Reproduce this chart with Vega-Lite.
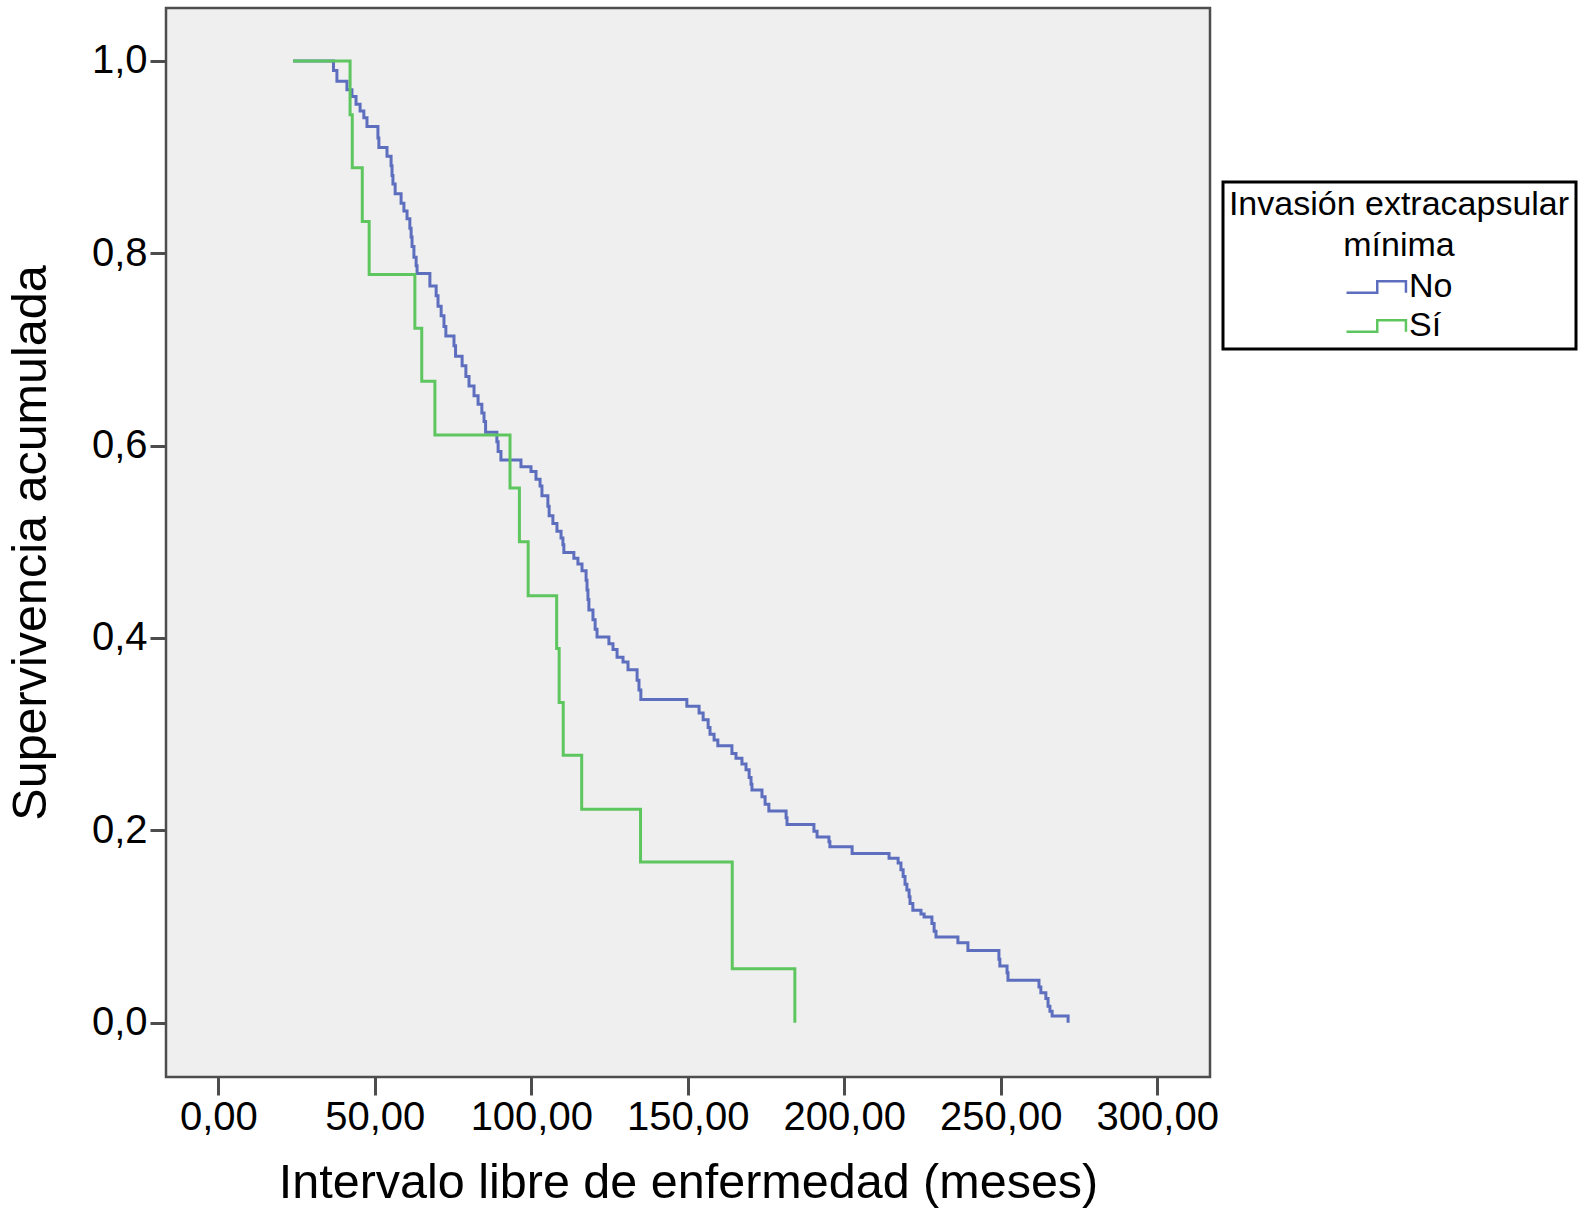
{
  "$schema": "https://vega.github.io/schema/vega-lite/v6.json",
  "autosize": {"type": "none"},
  "padding": {"left": 166, "top": 8, "right": 368, "bottom": 131},
  "width": 1044,
  "height": 1069,
  "background": "white",
  "config": {
    "font": "Liberation Sans",
    "locale": {"number": {"decimal": ",", "thousands": ".", "grouping": [3], "currency": ["", " €"]}},
    "view": {"fill": "#efefef", "stroke": "#4d4d4d", "strokeWidth": 2.5},
    "axis": {"grid": false, "domain": false, "tickColor": "#4d4d4d", "tickWidth": 3, "labelColor": "black", "titleColor": "black", "titleFontWeight": "normal", "labelFont": "Liberation Sans", "titleFont": "Liberation Sans"},
    "legend": {"strokeWidth": 3}
  },
  "data": {
    "values": [
      {"t": 23.9, "s": 1.0, "g": "No"},
      {"t": 36.8, "s": 0.990, "g": "No"},
      {"t": 37.9, "s": 0.979, "g": "No"},
      {"t": 41.1, "s": 0.970, "g": "No"},
      {"t": 42.7, "s": 0.963, "g": "No"},
      {"t": 44.0, "s": 0.955, "g": "No"},
      {"t": 45.3, "s": 0.948, "g": "No"},
      {"t": 46.5, "s": 0.941, "g": "No"},
      {"t": 47.5, "s": 0.932, "g": "No"},
      {"t": 51.0, "s": 0.920, "g": "No"},
      {"t": 51.3, "s": 0.910, "g": "No"},
      {"t": 53.9, "s": 0.901, "g": "No"},
      {"t": 55.2, "s": 0.891, "g": "No"},
      {"t": 55.5, "s": 0.881, "g": "No"},
      {"t": 55.8, "s": 0.872, "g": "No"},
      {"t": 56.5, "s": 0.862, "g": "No"},
      {"t": 58.4, "s": 0.852, "g": "No"},
      {"t": 59.3, "s": 0.844, "g": "No"},
      {"t": 60.3, "s": 0.836, "g": "No"},
      {"t": 61.2, "s": 0.826, "g": "No"},
      {"t": 61.6, "s": 0.817, "g": "No"},
      {"t": 61.9, "s": 0.807, "g": "No"},
      {"t": 62.5, "s": 0.796, "g": "No"},
      {"t": 63.2, "s": 0.787, "g": "No"},
      {"t": 63.5, "s": 0.779, "g": "No"},
      {"t": 67.6, "s": 0.766, "g": "No"},
      {"t": 69.6, "s": 0.756, "g": "No"},
      {"t": 70.2, "s": 0.745, "g": "No"},
      {"t": 71.2, "s": 0.735, "g": "No"},
      {"t": 72.1, "s": 0.724, "g": "No"},
      {"t": 72.7, "s": 0.714, "g": "No"},
      {"t": 75.3, "s": 0.704, "g": "No"},
      {"t": 75.8, "s": 0.693, "g": "No"},
      {"t": 77.9, "s": 0.683, "g": "No"},
      {"t": 79.1, "s": 0.672, "g": "No"},
      {"t": 80.1, "s": 0.662, "g": "No"},
      {"t": 81.7, "s": 0.652, "g": "No"},
      {"t": 83.0, "s": 0.643, "g": "No"},
      {"t": 84.2, "s": 0.634, "g": "No"},
      {"t": 84.9, "s": 0.625, "g": "No"},
      {"t": 85.4, "s": 0.614, "g": "No"},
      {"t": 89.0, "s": 0.604, "g": "No"},
      {"t": 89.4, "s": 0.594, "g": "No"},
      {"t": 90.3, "s": 0.585, "g": "No"},
      {"t": 96.7, "s": 0.578, "g": "No"},
      {"t": 99.9, "s": 0.573, "g": "No"},
      {"t": 101.5, "s": 0.565, "g": "No"},
      {"t": 102.8, "s": 0.558, "g": "No"},
      {"t": 103.4, "s": 0.548, "g": "No"},
      {"t": 105.3, "s": 0.537, "g": "No"},
      {"t": 105.7, "s": 0.527, "g": "No"},
      {"t": 106.9, "s": 0.519, "g": "No"},
      {"t": 108.2, "s": 0.511, "g": "No"},
      {"t": 109.5, "s": 0.504, "g": "No"},
      {"t": 110.1, "s": 0.497, "g": "No"},
      {"t": 110.4, "s": 0.489, "g": "No"},
      {"t": 113.6, "s": 0.483, "g": "No"},
      {"t": 114.9, "s": 0.477, "g": "No"},
      {"t": 116.2, "s": 0.470, "g": "No"},
      {"t": 117.5, "s": 0.460, "g": "No"},
      {"t": 117.8, "s": 0.450, "g": "No"},
      {"t": 118.1, "s": 0.440, "g": "No"},
      {"t": 118.4, "s": 0.429, "g": "No"},
      {"t": 119.7, "s": 0.419, "g": "No"},
      {"t": 120.4, "s": 0.409, "g": "No"},
      {"t": 121.0, "s": 0.401, "g": "No"},
      {"t": 124.8, "s": 0.394, "g": "No"},
      {"t": 126.1, "s": 0.388, "g": "No"},
      {"t": 127.4, "s": 0.380, "g": "No"},
      {"t": 129.3, "s": 0.375, "g": "No"},
      {"t": 130.9, "s": 0.367, "g": "No"},
      {"t": 133.8, "s": 0.356, "g": "No"},
      {"t": 134.4, "s": 0.346, "g": "No"},
      {"t": 135.0, "s": 0.336, "g": "No"},
      {"t": 149.7, "s": 0.329, "g": "No"},
      {"t": 153.6, "s": 0.322, "g": "No"},
      {"t": 154.9, "s": 0.315, "g": "No"},
      {"t": 156.5, "s": 0.307, "g": "No"},
      {"t": 157.1, "s": 0.300, "g": "No"},
      {"t": 158.4, "s": 0.294, "g": "No"},
      {"t": 159.6, "s": 0.288, "g": "No"},
      {"t": 164.1, "s": 0.280, "g": "No"},
      {"t": 165.4, "s": 0.275, "g": "No"},
      {"t": 167.3, "s": 0.269, "g": "No"},
      {"t": 168.6, "s": 0.263, "g": "No"},
      {"t": 169.6, "s": 0.255, "g": "No"},
      {"t": 170.2, "s": 0.248, "g": "No"},
      {"t": 170.5, "s": 0.242, "g": "No"},
      {"t": 173.7, "s": 0.235, "g": "No"},
      {"t": 174.7, "s": 0.227, "g": "No"},
      {"t": 175.9, "s": 0.220, "g": "No"},
      {"t": 181.4, "s": 0.213, "g": "No"},
      {"t": 181.7, "s": 0.206, "g": "No"},
      {"t": 190.3, "s": 0.199, "g": "No"},
      {"t": 191.3, "s": 0.193, "g": "No"},
      {"t": 195.1, "s": 0.188, "g": "No"},
      {"t": 195.4, "s": 0.183, "g": "No"},
      {"t": 202.5, "s": 0.176, "g": "No"},
      {"t": 214.3, "s": 0.171, "g": "No"},
      {"t": 217.2, "s": 0.166, "g": "No"},
      {"t": 218.1, "s": 0.159, "g": "No"},
      {"t": 218.8, "s": 0.152, "g": "No"},
      {"t": 219.4, "s": 0.144, "g": "No"},
      {"t": 220.0, "s": 0.138, "g": "No"},
      {"t": 220.7, "s": 0.131, "g": "No"},
      {"t": 221.0, "s": 0.124, "g": "No"},
      {"t": 221.9, "s": 0.117, "g": "No"},
      {"t": 224.5, "s": 0.113, "g": "No"},
      {"t": 225.5, "s": 0.110, "g": "No"},
      {"t": 228.0, "s": 0.103, "g": "No"},
      {"t": 228.7, "s": 0.095, "g": "No"},
      {"t": 229.3, "s": 0.089, "g": "No"},
      {"t": 236.3, "s": 0.083, "g": "No"},
      {"t": 239.5, "s": 0.075, "g": "No"},
      {"t": 249.4, "s": 0.066, "g": "No"},
      {"t": 249.7, "s": 0.059, "g": "No"},
      {"t": 252.0, "s": 0.052, "g": "No"},
      {"t": 252.3, "s": 0.044, "g": "No"},
      {"t": 262.2, "s": 0.037, "g": "No"},
      {"t": 262.8, "s": 0.031, "g": "No"},
      {"t": 264.4, "s": 0.025, "g": "No"},
      {"t": 265.1, "s": 0.017, "g": "No"},
      {"t": 265.7, "s": 0.012, "g": "No"},
      {"t": 266.4, "s": 0.007, "g": "No"},
      {"t": 271.5, "s": 0.0, "g": "No"},
      {"t": 23.9, "s": 1.0, "g": "Sí"},
      {"t": 42.1, "s": 0.944, "g": "Sí"},
      {"t": 42.8, "s": 0.889, "g": "Sí"},
      {"t": 46.0, "s": 0.833, "g": "Sí"},
      {"t": 48.2, "s": 0.778, "g": "Sí"},
      {"t": 62.8, "s": 0.722, "g": "Sí"},
      {"t": 65.0, "s": 0.667, "g": "Sí"},
      {"t": 69.2, "s": 0.611, "g": "Sí"},
      {"t": 93.2, "s": 0.556, "g": "Sí"},
      {"t": 96.2, "s": 0.5, "g": "Sí"},
      {"t": 99.0, "s": 0.444, "g": "Sí"},
      {"t": 108.1, "s": 0.389, "g": "Sí"},
      {"t": 108.9, "s": 0.333, "g": "Sí"},
      {"t": 110.2, "s": 0.278, "g": "Sí"},
      {"t": 116.1, "s": 0.222, "g": "Sí"},
      {"t": 134.9, "s": 0.167, "g": "Sí"},
      {"t": 164.2, "s": 0.056, "g": "Sí"},
      {"t": 184.2, "s": 0.0, "g": "Sí"}
    ]
  },
  "mark": {"type": "line", "interpolate": "step-after", "strokeWidth": 3, "clip": true},
  "encoding": {
    "x": {
      "field": "t", "type": "quantitative",
      "scale": {"domain": [-16.71, 316.84], "nice": false, "zero": false},
      "axis": {
        "values": [0, 50, 100, 150, 200, 250, 300], "format": ".2f",
        "labelFontSize": 40, "tickSize": 18, "labelPadding": 2,
        "title": "Intervalo libre de enfermedad (meses)", "titleFontSize": 48.5, "titlePadding": 22
      }
    },
    "y": {
      "field": "s", "type": "quantitative",
      "scale": {"domain": [-0.0565, 1.0551], "nice": false, "zero": false},
      "axis": {
        "values": [0, 0.2, 0.4, 0.6, 0.8, 1.0], "format": ".1f",
        "labelFontSize": 40, "tickSize": 16, "labelPadding": 3,
        "title": "Supervivencia acumulada", "titleFontSize": 48.5, "titlePadding": 36
      }
    },
    "color": {
      "field": "g", "type": "nominal",
      "scale": {"domain": ["No", "Sí"], "range": ["#5d6ebf", "#5ec65e"]},
      "legend": {
        "orient": "none", "legendX": 1057, "legendY": 174, "direction": "vertical",
        "title": ["Invasión extracapsular", "mínima"],
        "titleFontSize": 34, "titleFontWeight": "normal", "titleColor": "black",
        "titleAlign": "center", "titleAnchor": "middle", "titleLineHeight": 41, "titlePadding": 2, "titleLimit": 1000,
        "labelFontSize": 34, "labelColor": "black", "labelOffset": 20, "labelLimit": 400,
        "symbolType": "M-1,0.28H0.5V-0.28H1.9V0.28", "symbolSize": 1681, "symbolStrokeWidth": 2.5, "symbolOffset": 0,
        "padding": 6, "strokeColor": "black", "fillColor": "white", "rowPadding": 0
      }
    }
  }
}
